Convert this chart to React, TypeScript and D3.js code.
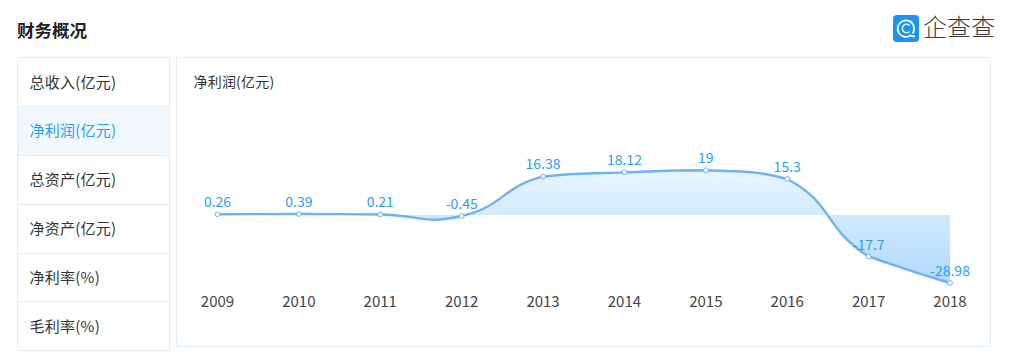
import React from "react";
import * as d3 from "d3";

const years = ["2009","2010","2011","2012","2013","2014","2015","2016","2017","2018"];
const netProfit = [0.26,0.39,0.21,-0.45,16.38,18.12,19,15.3,-17.7,-28.98];
const labels = ["0.26","0.39","0.21","-0.45","16.38","18.12","19","15.3","-17.7","-28.98"];
const tabs = ["总收入(亿元)","净利润(亿元)","总资产(亿元)","净资产(亿元)","净利率(%)","毛利率(%)"];
const rowEdges = [57.5,106.5,155.5,204.5,253.5,301.5,350.5];
const tabBaselines = [88,136,185,234,283,332];

const FONT = "'Noto Sans CJK SC', 'Noto Sans', sans-serif";
const BORDER = "#e4eef6";
const BLUE = "#2a9df4";

// d3 curve factory: tangents follow the neighbouring points, handles are scaled by
// segment length, clamped to the series extent, and kept from overshooting a segment.
// The segment into the last point is held closer to straight.
function clampedSmooth(yMin: number, yMax: number, smooth = 0.5, endLimit = 0.45) {
  return (context: any) => {
    let pts: [number, number][] = [];
    let run = 0;
    return {
      areaStart() { run = 0; },
      areaEnd() { context.closePath(); },
      lineStart() { pts = []; },
      point(px: number, py: number) { pts.push([+px, +py]); },
      lineEnd() {
        const n = pts.length;
        const lim = (h: number, seg: number, k: number) =>
          h * seg > 0 && Math.abs(h) > k * Math.abs(seg) ? k * seg : h;
        const clamp = (v: number) => Math.min(yMax, Math.max(yMin, v));
        const cps = pts.map((p, i) => {
          const prev = pts[Math.max(0, i - 1)];
          const next = pts[Math.min(n - 1, i + 1)];
          const vx = (next[0] - prev[0]) * smooth;
          const vy = (next[1] - prev[1]) * smooth;
          let d0 = Math.hypot(p[0] - prev[0], p[1] - prev[1]);
          let d1 = Math.hypot(p[0] - next[0], p[1] - next[1]);
          const sum = d0 + d1 || 1;
          d0 /= sum; d1 /= sum;
          return {
            a: [p[0] - vx * d0, clamp(p[1] + lim(-vy * d0, prev[1] - p[1], i === n - 1 ? endLimit : 1))],
            b: [p[0] + vx * d1, clamp(p[1] + lim(vy * d1, next[1] - p[1], i === n - 2 ? endLimit : 1))],
          };
        });
        pts.forEach((p, i) => {
          if (i === 0) {
            if (run === 0) context.moveTo(p[0], p[1]); else context.lineTo(p[0], p[1]);
          } else {
            const c0 = cps[i - 1].b, c1 = cps[i].a;
            context.bezierCurveTo(c0[0], c0[1], c1[0], c1[1], p[0], p[1]);
          }
        });
        run++;
      },
    };
  };
}

export default function App() {
  const x = d3.scalePoint<string>().domain(years).range([217.5, 950]);
  const y = d3.scaleLinear().domain([-28.98, 19]).range([283, 170.3]);
  const curve = clampedSmooth(y(19), y(-28.98));
  const gen = d3.line<number>().x((_, i) => x(years[i])!).y(d => y(d)).curve(curve as any);
  const area = d3.area<number>().x((_, i) => x(years[i])!).y0(y(0)).y1(d => y(d)).curve(curve as any);
  return (
    <svg width={1010} height={354} style={{ position: "fixed", left: 0, top: 0, display: "block", background: "#fff" }} fontFamily={FONT}>
      <defs>
        <linearGradient id="fill" gradientUnits="userSpaceOnUse" x1="0" x2="0" y1={y(19)} y2={y(-28.98)}>
          <stop offset="0" stopColor="#e9f5ff" />
          <stop offset="1" stopColor="#b0d9ff" />
        </linearGradient>
      </defs>
      <text x={17} y={37} fontSize={17.5} fontWeight={700} fill="#222">财务概况</text>

      <rect x={893} y={15} width={26} height={27} rx={4} fill="#1a94f2" />
      <path d="M 912.5 33.5 A 8.2 8.2 0 1 0 909.5 36" fill="none" stroke="#fff" strokeWidth={1.8} />
      <path d="M 909.5 25.5 A 4.2 4.2 0 1 0 909.5 31.5" fill="none" stroke="#fff" strokeWidth={1.5} />
      <line x1={909} y1={35.5} x2={915} y2={36.5} stroke="#fff" strokeWidth={1.8} />
      <text x={923} y={36} fontSize={24} fontWeight={300} fill="#3a3a3a">企查查</text>

      <rect x={17.5} y={57.5} width={152} height={293} fill="#fff" stroke={BORDER} />
      {tabs.map((t, i) => (
        <g key={t}>
          {i === 1 && <rect x={18} y={rowEdges[i]} width={151} height={rowEdges[i + 1] - rowEdges[i]} fill="#f0f8fd" />}
          {i > 0 && <line x1={18} x2={169} y1={rowEdges[i]} y2={rowEdges[i]} stroke={BORDER} />}
          <text x={29.5} y={tabBaselines[i]} fontSize={15} letterSpacing={0.25} fill={i === 1 ? "#2a9df4" : "#333"}>{t}</text>
        </g>
      ))}
      <line x1={18} x2={169} y1={155.5} y2={155.5} stroke={BORDER} />

      <rect x={176.5} y={57.5} width={814} height={289} fill="#fff" stroke={BORDER} />
      <text x={193.5} y={87} fontSize={14} letterSpacing={0.2} fill="#333">净利润(亿元)</text>

      <path d={area(netProfit)!} fill="url(#fill)" />
      <path d={gen(netProfit)!} fill="none" stroke="#6cb3f5" strokeWidth={2.4} />
      {netProfit.map((v, i) => (
        <g key={years[i]}>
          <circle cx={x(years[i])} cy={y(v)} r={2.4} fill="#fff" stroke="#6cb3f5" strokeWidth={1} />
          <text x={x(years[i])} y={y(v) - 7} textAnchor="middle" fontSize={14} fill={BLUE}>{labels[i]}</text>
          <text x={x(years[i])} y={307} textAnchor="middle" fontSize={15} fill="#444">{years[i]}</text>
        </g>
      ))}
    </svg>
  );
}
